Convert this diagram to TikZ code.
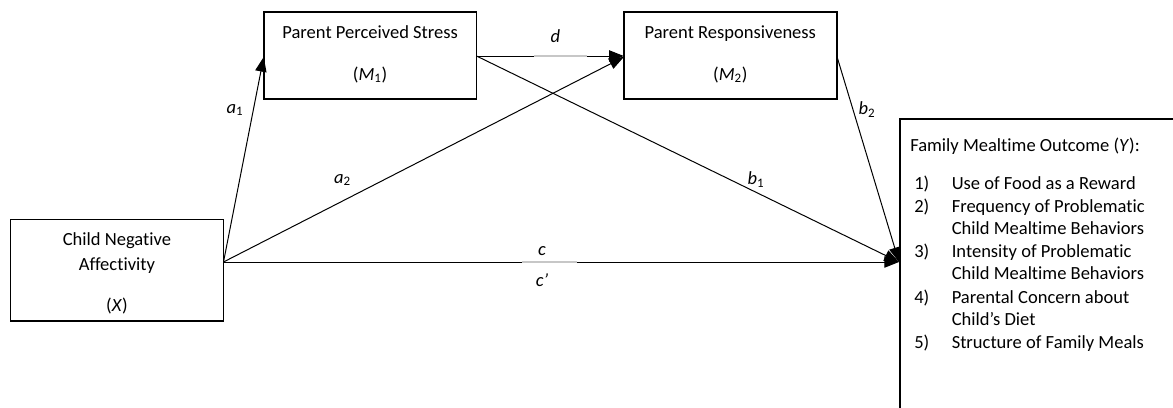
\documentclass[tikz,border=0pt]{standalone}
\usepackage{fontspec}
\setmainfont[Ligatures={NoCommon}]{Carlito}
\usetikzlibrary{arrows.meta}
\tikzset{
  box/.style={draw=black, line width=1.2pt, rectangle, inner sep=0pt},
  txt/.style={inner sep=0pt, anchor=base, font=\fontsize{13.9}{16}\selectfont},
  ltxt/.style={inner sep=0pt, anchor=base west, font=\fontsize{13.9}{16}\selectfont},
  lbl/.style={inner sep=0pt, font=\fontsize{13.9}{16}\selectfont\itshape},
  conn/.style={line width=0.75pt, -{Triangle[length=11pt,width=8.5pt]}},
  gapseg/.style={line width=0.9pt, draw=black!22},
}
\newcommand{\sub}[1]{\textsubscript{\upshape #1}}
\begin{document}
\begin{tikzpicture}[x=0.75pt,y=-0.75pt]
\useasboundingbox (0,0) rectangle (1173,407);
\clip (0,0) rectangle (1173,407);
\fill[white] (0,0) rectangle (1173,407);
% boxes
\node[box, minimum width=212.8*0.75pt, minimum height=87*0.75pt] (m1) at (370.1,55.5) {};
\node[box, minimum width=213*0.75pt, minimum height=87*0.75pt] (m2) at (730.3,55.5) {};
\node[box, minimum width=213.2*0.75pt, minimum height=101.4*0.75pt] (x) at (116.9,270) {};
\node[box, minimum width=320*0.75pt, minimum height=320*0.75pt, anchor=north west] (y) at (899,118) {};
% box texts
\node[txt] (m1t) at (370.1,38) {Parent Perceived Stress};
\node[txt] (m1s) at (370.1,80) {(\textit{M}\sub{1})};
\node[txt] (m2t) at (730.3,38) {Parent Responsiveness};
\node[txt] (m2s) at (730.3,80) {(\textit{M}\sub{2})};
\node[txt] (xt1) at (116.9,245) {Child Negative};
\node[txt] (xt2) at (116.9,270) {Affectivity};
\node[txt] (xt3) at (116.9,311) {(\textit{X})};
\node[ltxt] (yt) at (910,151) {Family Mealtime Outcome (\textit{Y}):};
\node[ltxt] (n1) at (914,189) {1)};
\node[ltxt] (l1) at (951.5,189) {Use of Food as a Reward};
\node[ltxt] (n2) at (914,212) {2)};
\node[ltxt] (l2) at (951.5,212) {Frequency of Problematic};
\node[ltxt] (l2b) at (951.5,234.5) {Child Mealtime Behaviors};
\node[ltxt] (n3) at (914,257) {3)};
\node[ltxt] (l3) at (951.5,257) {Intensity of Problematic};
\node[ltxt] (l3b) at (951.5,279.5) {Child Mealtime Behaviors};
\node[ltxt] (n4) at (914,303) {4)};
\node[ltxt] (l4) at (951.5,303) {Parental Concern about};
\node[ltxt] (l4b) at (951.5,325.5) {Child’s Diet};
\node[ltxt] (n5) at (914,348) {5)};
\node[ltxt] (l5) at (951.5,348) {Structure of Family Meals};
% connector points
\coordinate (xo) at (223.5,262);
\coordinate (m1w) at (263.7,57);
\coordinate (m2w) at (623.8,57);
\coordinate (m1e) at (476.5,56);
\coordinate (m2e) at (836.8,56);
\coordinate (yw) at (899,262);
% connectors
\draw[conn] (xo) -- (m1w);
\draw[conn] (xo) -- (m2w);
\draw[conn] (m1e) -- (m2w |- m1e);
\draw[conn] (m1e) -- (yw);
\draw[conn] (m2e) -- (yw);
\draw[conn] (xo) -- (yw);
% light segments under labels
\coordinate (dg1) at (534,56);
\coordinate (dg2) at (587,56);
\coordinate (cg1) at (522,262);
\coordinate (cg2) at (577,262);
\draw[gapseg] (dg1) -- (dg2);
\draw[gapseg] (cg1) -- (cg2);
% labels
\node[lbl] (la1) at (235,110) {a\sub{1}};
\node[lbl] (la2) at (342.5,180) {a\sub{2}};
\node[lbl] (ld) at (555.5,36) {d};
\node[lbl] (lb1) at (756,180) {b\sub{1}};
\node[lbl] (lb2) at (867,110) {b\sub{2}};
\node[lbl] (lc) at (542,251) {c};
\node[lbl] (lcp) at (542,280) {c’};
\end{tikzpicture}
\end{document}
